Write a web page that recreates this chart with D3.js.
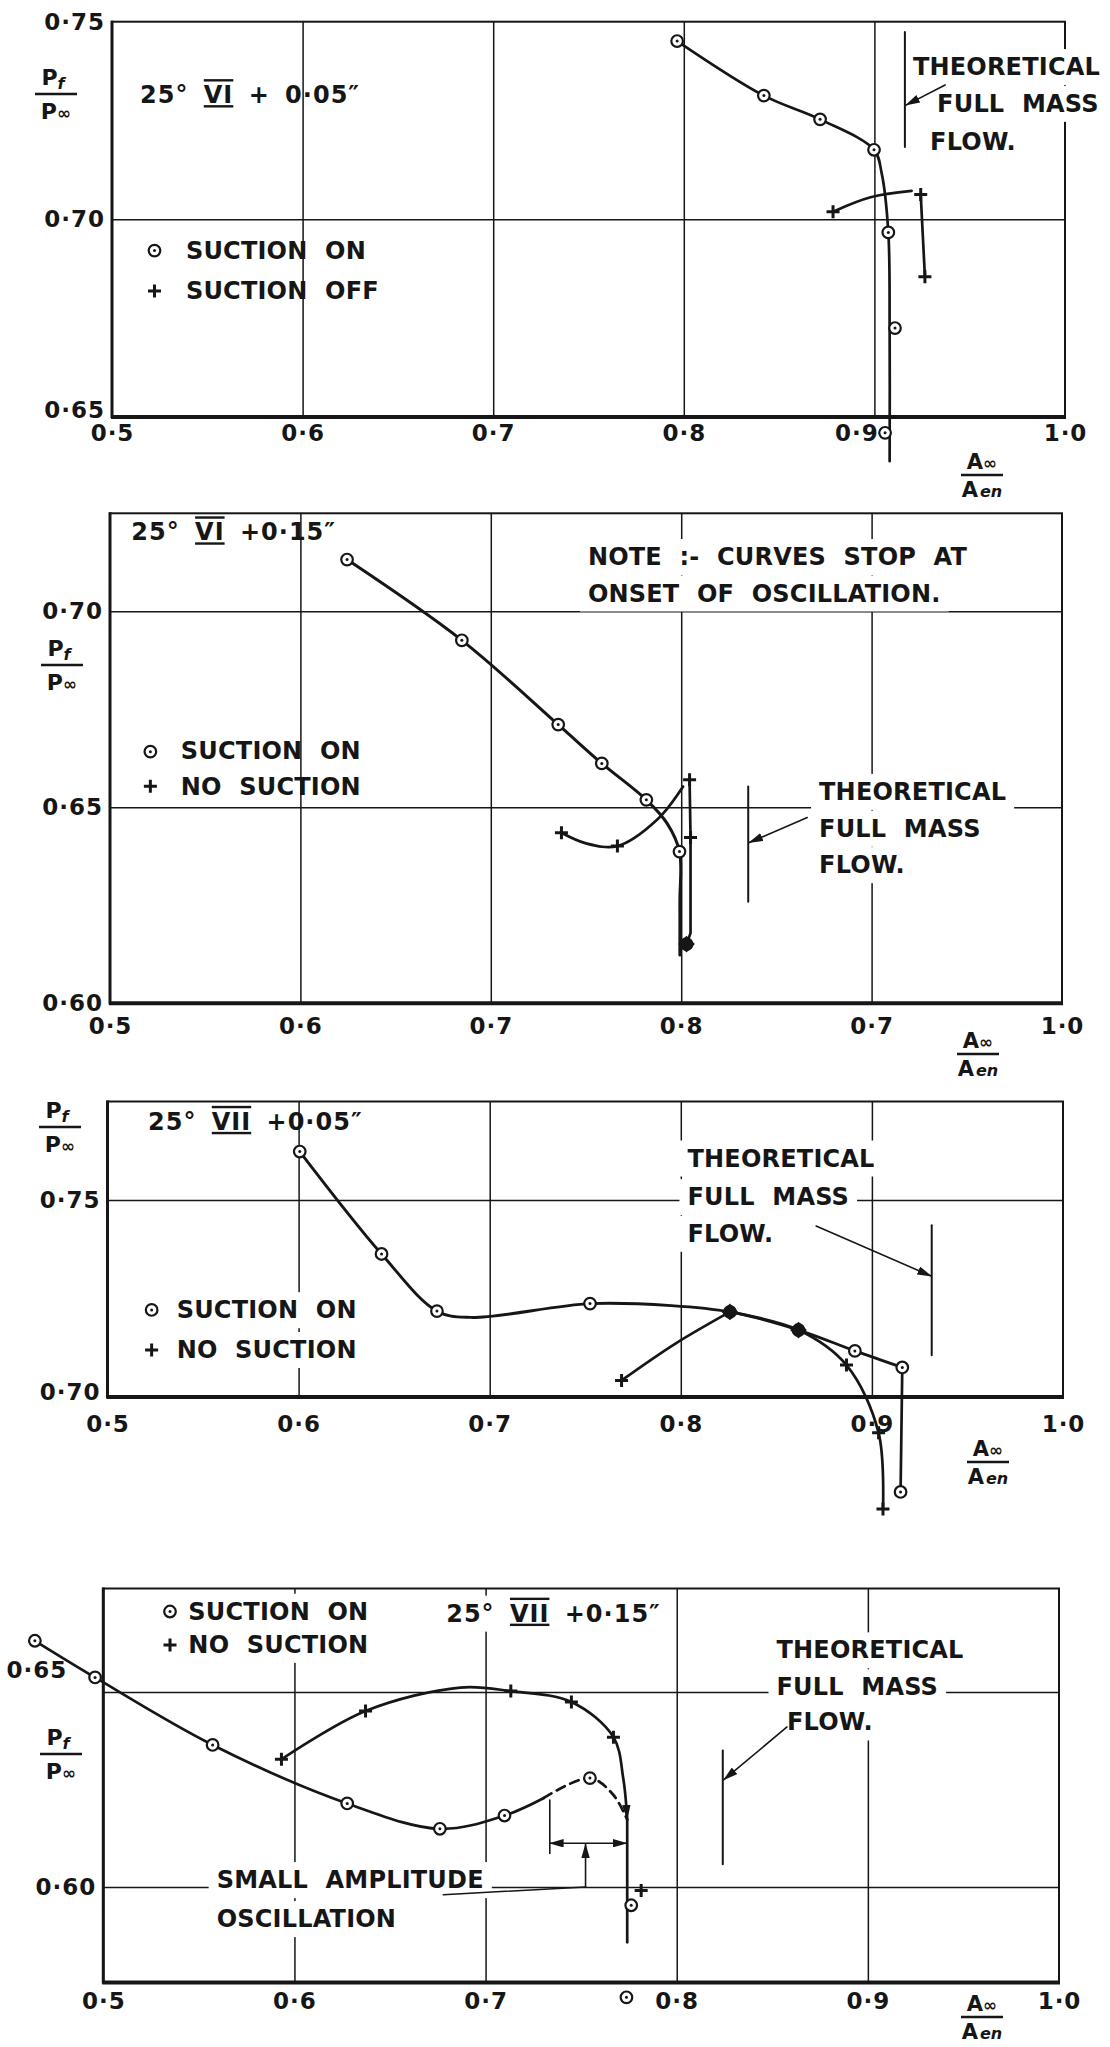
<!DOCTYPE html>
<html>
<head>
<meta charset="utf-8">
<script src="https://cdnjs.cloudflare.com/ajax/libs/d3/7.8.5/d3.min.js"></script>
<style>
  body { margin: 0; background: #fff; }
  svg text { font-family: "DejaVu Sans", Verdana, sans-serif; font-weight: bold; fill: #161616; }
</style>
</head>
<body>
<div id="chart"></div>
<script>
// Pf/P-inf against A-inf/A-en, four intake configurations (25 deg ramp)

// shared x axis
var xTicks = [0.5, 0.6, 0.7, 0.8, 0.9, 1.0];
var xTickLabels = ["0·5", "0·6", "0·7", "0·8", "0·9", "1·0"];
var xTickLabels2 = ["0·5", "0·6", "0·7", "0·8", "0·7", "1·0"]; // lettered this way on the original
var xGrid = [0.6, 0.7, 0.8, 0.9];

// panel 1 : 25° VI + 0.05"
var p1YTicks = [0.65, 0.70, 0.75];
var p1YGrid = [0.70];
var p1On = [[0.7965, 0.7451], [0.842, 0.7313], [0.8715, 0.7253], [0.8998, 0.7176], [0.9073, 0.6967], [0.9108, 0.6725], [0.9056, 0.646]];
var p1OnCurve = [[0.7965, 0.7451], [0.842, 0.7313], [0.8715, 0.7253], [0.8998, 0.7176], [0.9038, 0.7117], [0.9073, 0.6967], [0.908, 0.672], [0.908, 0.6388]];
var p1Off = [[0.8783, 0.7019], [0.9243, 0.7063], [0.9265, 0.6855]];
var p1OffArc = [[0.8795, 0.7022], [0.898, 0.7056], [0.9195, 0.7072]];
var p1OffLine = [[0.9243, 0.7063], [0.9265, 0.6855]];
var p1Theory = [[0.916, 0.7474], [0.916, 0.7183]];
var p1Arrow = [[0.9371, 0.734], [0.9166, 0.7289]];

// panel 2 : 25° VI + 0.15"
var p2YTicks = [0.60, 0.65, 0.70];
var p2YGrid = [0.65, 0.70];
var p2On = [[0.6245, 0.7132], [0.6848, 0.6926], [0.7354, 0.6711], [0.7583, 0.6612], [0.7817, 0.6519], [0.7991, 0.6387], [0.8028, 0.6151]];
var p2OnCurve = [[0.6245, 0.7132], [0.6848, 0.6926], [0.7354, 0.6711], [0.7583, 0.6612], [0.7817, 0.6519], [0.7926, 0.6459], [0.7991, 0.6387], [0.7993, 0.626], [0.7993, 0.6123]];
var p2Off = [[0.7371, 0.6435], [0.7665, 0.6401], [0.8044, 0.657], [0.8049, 0.6423], [0.8028, 0.6151]];
var p2OffCurve = [[0.7371, 0.6435], [0.750, 0.6408], [0.7665, 0.6401], [0.7873, 0.6468], [0.801, 0.6553]];
var p2OffLine = [[0.8044, 0.657], [0.8049, 0.6423], [0.8049, 0.6179], [0.8028, 0.6151]];
var p2Both = [[0.8028, 0.6151]];
var p2Theory = [[0.8352, 0.6553], [0.8352, 0.6259]];
var p2Arrow = [[0.8662, 0.6474], [0.8357, 0.641]];

// panel 3 : 25° VII + 0.05"
var p3YTicks = [0.70, 0.75];
var p3YGrid = [0.75];
var p3On = [[0.6006, 0.7623], [0.6434, 0.7363], [0.6724, 0.7218], [0.7525, 0.7237], [0.8257, 0.7216], [0.8616, 0.717], [0.8911, 0.7117], [0.9159, 0.7075], [0.915, 0.6759]];
var p3OnCurve = [[0.6006, 0.7623], [0.6434, 0.7363], [0.6724, 0.7218], [0.690, 0.7202], [0.7525, 0.7237], [0.795, 0.7232], [0.8257, 0.7216], [0.8616, 0.717], [0.8911, 0.7117], [0.9159, 0.7075]];
var p3OnDrop = [[0.9159, 0.7075], [0.915, 0.6759]];
var p3Off = [[0.769, 0.7042], [0.8257, 0.7216], [0.8616, 0.717], [0.8867, 0.7081], [0.9035, 0.6909], [0.9058, 0.6716]];
var p3OffCurve = [[0.769, 0.7042], [0.797, 0.7135], [0.8257, 0.7216]];
var p3OffLine = [[0.8257, 0.7216], [0.8616, 0.717], [0.8867, 0.7081], [0.9035, 0.6909], [0.9058, 0.6716]];
var p3Both = [[0.8257, 0.7216], [0.8616, 0.717]];
var p3Theory = [[0.9313, 0.7436], [0.9313, 0.7106]];
var p3Arrow = [[0.8708, 0.7434], [0.931, 0.7307]];

// panel 4 : 25° VII + 0.15"
var p4YTicks = [0.60, 0.65];
var p4YGrid = [0.60, 0.65];
var p4On = [[0.4642, 0.6631], [0.4957, 0.6537], [0.5572, 0.6364], [0.6276, 0.6214], [0.6761, 0.6149], [0.7099, 0.6183], [0.7546, 0.6279], [0.7762, 0.5953], [0.7737, 0.5717]];
var p4OnCurve = [[0.4642, 0.6631], [0.4957, 0.6537], [0.5572, 0.6364], [0.6276, 0.6214], [0.6761, 0.6149], [0.7099, 0.6183], [0.7305, 0.6228]];
var p4OnDashed = [[0.7305, 0.6228], [0.7546, 0.6279], [0.767, 0.6235], [0.7741, 0.6172]];
var p4OnDrop = [[0.7741, 0.6172], [0.7741, 0.5858]];
var p4Off = [[0.5932, 0.6327], [0.6372, 0.6451], [0.7132, 0.6502], [0.7449, 0.6474], [0.7669, 0.6384], [0.7814, 0.5991]];
var p4OffCurve = [[0.5932, 0.6327], [0.6372, 0.6451], [0.6868, 0.6511], [0.7132, 0.6502], [0.7449, 0.6474], [0.7669, 0.6384], [0.772, 0.6279], [0.7741, 0.6175]];
var p4Theory = [[0.8241, 0.635], [0.8241, 0.6058]];
var p4Arrow = [[0.8577, 0.641], [0.8247, 0.6275]];
var p4OscTick = [[0.7336, 0.6223], [0.7336, 0.6086]];
var p4OscSpan = [[0.7336, 0.6112], [0.7737, 0.6112]];
var p4OscPointer = [[0.7523, 0.600], [0.7523, 0.6109]];
var p4OscLeader = [[0.6779, 0.598], [0.7523, 0.600]];

var ink = "#161616";
var W = 1110, H = 2047;

var svg = d3.select("#chart").append("svg")
    .attr("width", W)
    .attr("height", H);

var defs = svg.append("defs");
defs.append("marker")
    .attr("id", "head")
    .attr("viewBox", "0 0 14 8")
    .attr("refX", 13)
    .attr("refY", 4)
    .attr("markerWidth", 15)
    .attr("markerHeight", 8.5)
    .attr("markerUnits", "userSpaceOnUse")
    .attr("orient", "auto-start-reverse")
  .append("path")
    .attr("d", "M0,0L14,4L0,8Z")
    .attr("fill", ink);

function fmtTick(d) { return d3.format(".2f")(d).replace(".", "·"); }

function backdrop(g, t) {
  var b = t.node().getBBox();
  g.insert("rect", function() { return t.node(); })
      .attr("x", b.x - 8).attr("y", b.y - 4)
      .attr("width", b.width + 16).attr("height", b.height + 8)
      .attr("fill", "#fff");
}

function words(g, px, py, str, bg) {
  var t = g.append("text")
      .attr("x", px).attr("y", py)
      .attr("font-size", 24)
      .attr("letter-spacing", 0.2)
      .attr("word-spacing", 9)
      .text(str);
  if (bg) backdrop(g, t);
  return t;
}

function title(g, px, py, numeral, tail, bg) {
  var t = g.append("text")
      .attr("x", px).attr("y", py)
      .attr("font-size", 24)
      .attr("letter-spacing", 1)
      .attr("word-spacing", 6);
  t.append("tspan").text("25° ");
  t.append("tspan").attr("text-decoration", "underline overline").text(numeral);
  t.append("tspan").text(tail);
  if (bg) backdrop(g, t);
}

function curve(g, x, y, pts, opt) {
  opt = opt || {};
  var line = d3.line()
      .curve(opt.straight ? d3.curveLinear : d3.curveCatmullRom.alpha(0.5))
      .x(function(d) { return x(d[0]); })
      .y(function(d) { return y(d[1]); });
  var p = g.append("path")
      .datum(pts)
      .attr("fill", "none")
      .attr("stroke", ink)
      .attr("stroke-width", opt.width || 2.7)
      .attr("stroke-linejoin", "round")
      .attr("stroke-linecap", "round")
      .attr("d", line);
  if (opt.dash) p.attr("stroke-dasharray", opt.dash);
  if (opt.end) p.attr("marker-end", "url(#head)");
  if (opt.start) p.attr("marker-start", "url(#head)");
  return p;
}

function onMarks(g, x, y, pts) {
  var m = g.selectAll(null).data(pts).enter().append("g")
      .attr("transform", function(d) { return "translate(" + x(d[0]) + "," + y(d[1]) + ")"; });
  m.append("circle").attr("r", 5.8).attr("fill", "#fff").attr("stroke", ink).attr("stroke-width", 2.2);
  m.append("circle").attr("r", 1.5).attr("fill", ink);
}

function offMarks(g, x, y, pts) {
  g.selectAll(null).data(pts).enter().append("path")
      .attr("transform", function(d) { return "translate(" + x(d[0]) + "," + y(d[1]) + ")"; })
      .attr("d", "M-6.5,0H6.5M0,-6.5V6.5")
      .attr("stroke", ink)
      .attr("stroke-width", 3)
      .attr("fill", "none");
}

function bothMarks(g, x, y, pts) {
  g.selectAll(null).data(pts).enter().append("path")
      .attr("transform", function(d) { return "translate(" + x(d[0]) + "," + y(d[1]) + ") rotate(45)"; })
      .attr("d", d3.symbol(d3.symbolSquare, 140))
      .attr("fill", ink);
}

function legendRows(g, x, y, sx, sy1, sy2, tx, ty1, ty2, t1, t2, bg) {
  words(g, x(tx), y(ty1), t1, bg);
  words(g, x(tx), y(ty2), t2, bg);
  onMarks(g, x, y, [[sx, sy1]]);
  offMarks(g, x, y, [[sx, sy2]]);
}

function yTitle(cx, barY) {
  var t = svg.append("text").attr("x", cx - 3).attr("y", barY - 9)
      .attr("text-anchor", "middle").attr("font-size", 22);
  t.append("tspan").text("P");
  t.append("tspan").attr("font-size", 16).attr("font-style", "italic").attr("dy", 4).text("f");
  svg.append("line")
      .attr("x1", cx - 21).attr("x2", cx + 21)
      .attr("y1", barY).attr("y2", barY)
      .attr("stroke", ink).attr("stroke-width", 2.6);
  var b = svg.append("text").attr("x", cx).attr("y", barY + 25)
      .attr("text-anchor", "middle").attr("font-size", 22);
  b.append("tspan").text("P");
  b.append("tspan").attr("font-size", 17).text("∞");
}

function xTitle(cx, barY) {
  var t = svg.append("text").attr("x", cx).attr("y", barY - 6)
      .attr("text-anchor", "middle").attr("font-size", 21);
  t.append("tspan").text("A");
  t.append("tspan").attr("font-size", 17).text("∞");
  svg.append("line")
      .attr("x1", cx - 21).attr("x2", cx + 21)
      .attr("y1", barY).attr("y2", barY)
      .attr("stroke", ink).attr("stroke-width", 2.4);
  var b = svg.append("text").attr("x", cx).attr("y", barY + 22)
      .attr("text-anchor", "middle").attr("font-size", 21);
  b.append("tspan").text("A");
  b.append("tspan").attr("font-size", 16).attr("font-style", "italic").attr("dx", 2).text("en");
}

function nudge(axisG, table) {
  if (!table) return;
  axisG.selectAll(".tick").filter(function(d) { return table[d]; }).select("text")
      .attr("transform", function(d) { return "translate(" + table[d][0] + "," + table[d][1] + ")"; });
}

function drawPanel(o) {
  var x = d3.scaleLinear().domain([0.5, 1.0]).range([o.left, o.right]);
  var y = d3.scaleLinear().domain(o.yDomain).range([o.bottom, o.top]);
  var g = svg.append("g");

  // grid
  g.append("g")
      .attr("transform", "translate(0," + o.bottom + ")")
      .call(d3.axisBottom(x).tickValues(xGrid).tickSize(-(o.bottom - o.top)).tickFormat(""))
      .call(function(a) { a.select(".domain").remove(); })
      .selectAll("line").attr("stroke", ink).attr("stroke-width", 1.5);
  g.append("g")
      .attr("transform", "translate(" + o.left + ",0)")
      .call(d3.axisLeft(y).tickValues(o.yGrid).tickSize(-(o.right - o.left)).tickFormat(""))
      .call(function(a) { a.select(".domain").remove(); })
      .selectAll("line").attr("stroke", ink).attr("stroke-width", 1.5);

  // frame, heavier on the two axes
  g.append("rect")
      .attr("x", o.left).attr("y", o.top)
      .attr("width", o.right - o.left).attr("height", o.bottom - o.top)
      .attr("fill", "none").attr("stroke", ink).attr("stroke-width", 2);
  g.append("line")
      .attr("x1", o.left - 1).attr("x2", o.right + 1)
      .attr("y1", o.bottom).attr("y2", o.bottom)
      .attr("stroke", ink).attr("stroke-width", 4);
  g.append("line")
      .attr("x1", o.left).attr("x2", o.left)
      .attr("y1", o.top - 1).attr("y2", o.bottom + 1)
      .attr("stroke", ink).attr("stroke-width", 3);

  // tick labels
  var xa = g.append("g")
      .attr("transform", "translate(0," + (o.xLabelY - 8) + ")")
      .call(d3.axisBottom(x).tickValues(xTicks).tickSize(0).tickPadding(0)
          .tickFormat(function(d, i) { return o.xLabels[i]; }));
  xa.select(".domain").remove();
  xa.selectAll("text").attr("font-size", 23).attr("letter-spacing", 1);
  nudge(xa, o.xNudge);

  var ya = g.append("g")
      .attr("transform", "translate(" + (o.left - 7) + ",0)")
      .call(d3.axisLeft(y).tickValues(o.yTicks).tickSize(0).tickPadding(0).tickFormat(fmtTick));
  ya.select(".domain").remove();
  ya.selectAll("text").attr("font-size", 23).attr("letter-spacing", 1);
  nudge(ya, o.yNudge);

  yTitle(o.yTitle[0], o.yTitle[1]);
  xTitle(o.xTitle[0], o.xTitle[1]);

  o.draw(g, x, y);
}

// panel 1
drawPanel({
  left: 112, right: 1065, top: 21.7, bottom: 417,
  yDomain: [0.65, 0.75], yTicks: p1YTicks, yGrid: p1YGrid,
  yNudge: {"0.65": [0, -7]},
  xLabels: xTickLabels, xLabelY: 433,
  xNudge: {"0.9": [-18, 0]},
  yTitle: [56, 94], xTitle: [982, 475],
  draw: function(g, x, y) {
    title(g, x(0.5147), y(0.7294), "VI", " + 0·05″", false);
    legendRows(g, x, y, 0.5223, 0.6921, 0.6819, 0.5388, 0.690, 0.6798, "SUCTION ON", "SUCTION OFF", false);
    words(g, x(0.9202), y(0.7365), "THEORETICAL", true);
    words(g, x(0.9329), y(0.7272), "FULL MASS", true);
    words(g, x(0.9292), y(0.7176), "FLOW.", true);
    curve(g, x, y, p1Theory, {straight: true, width: 2});
    curve(g, x, y, p1Arrow, {straight: true, width: 1.6, end: true});
    curve(g, x, y, p1OnCurve);
    curve(g, x, y, p1OffArc);
    curve(g, x, y, p1OffLine, {straight: true});
    onMarks(g, x, y, p1On);
    offMarks(g, x, y, p1Off);
  }
});

// panel 2
drawPanel({
  left: 110, right: 1062, top: 513.3, bottom: 1003.3,
  yDomain: [0.60, 0.725], yTicks: p2YTicks, yGrid: p2YGrid,
  xLabels: xTickLabels2, xLabelY: 1026,
  yTitle: [62, 665], xTitle: [978, 1054],
  draw: function(g, x, y) {
    title(g, x(0.5112), y(0.7181), "VI", " +0·15″", false);
    words(g, x(0.751), y(0.7118), "NOTE :- CURVES STOP AT", true);
    words(g, x(0.751), y(0.7025), "ONSET OF OSCILLATION.", true);
    legendRows(g, x, y, 0.5212, 0.6642, 0.6554, 0.5372, 0.6623, 0.6532, "SUCTION ON", "NO SUCTION", false);
    words(g, x(0.8724), y(0.6519), "THEORETICAL", true);
    words(g, x(0.8724), y(0.6425), "FULL MASS", true);
    words(g, x(0.8724), y(0.6332), "FLOW.", true);
    curve(g, x, y, p2Theory, {straight: true, width: 2});
    curve(g, x, y, p2Arrow, {straight: true, width: 1.6, end: true});
    curve(g, x, y, p2OnCurve, {width: 3});
    curve(g, x, y, p2OffCurve);
    curve(g, x, y, p2OffLine, {straight: true});
    onMarks(g, x, y, p2On);
    offMarks(g, x, y, p2Off);
    bothMarks(g, x, y, p2Both);
  }
});

// panel 3
drawPanel({
  left: 107.5, right: 1063, top: 1101.5, bottom: 1397,
  yDomain: [0.70, 0.775], yTicks: p3YTicks, yGrid: p3YGrid,
  yNudge: {"0.7": [0, -5]},
  xLabels: xTickLabels, xLabelY: 1424,
  yTitle: [60, 1127], xTitle: [988, 1462],
  draw: function(g, x, y) {
    title(g, x(0.5212), y(0.7678), "VII", " +0·05″", false);
    legendRows(g, x, y, 0.5231, 0.7221, 0.7119, 0.5362, 0.7200, 0.7099, "SUCTION ON", "NO SUCTION", true);
    words(g, x(0.8035), y(0.7585), "THEORETICAL", true);
    words(g, x(0.8035), y(0.7487), "FULL MASS", true);
    words(g, x(0.8035), y(0.7394), "FLOW.", true);
    curve(g, x, y, p3Theory, {straight: true, width: 2});
    curve(g, x, y, p3Arrow, {straight: true, width: 1.6, end: true});
    curve(g, x, y, p3OnCurve, {width: 2.9});
    curve(g, x, y, p3OnDrop, {straight: true});
    curve(g, x, y, p3OffCurve);
    curve(g, x, y, p3OffLine);
    onMarks(g, x, y, p3On);
    offMarks(g, x, y, p3Off);
    bothMarks(g, x, y, p3Both);
  }
});

// panel 4
drawPanel({
  left: 103.3, right: 1059, top: 1588.5, bottom: 1982.5,
  yDomain: [0.5755, 0.6765], yTicks: p4YTicks, yGrid: p4YGrid,
  yNudge: {"0.65": [-29, -22]},
  xLabels: xTickLabels, xLabelY: 2001,
  yTitle: [61, 1754], xTitle: [982, 2017],
  draw: function(g, x, y) {
    legendRows(g, x, y, 0.5349, 0.6706, 0.662, 0.5445, 0.6685, 0.660, "SUCTION ON", "NO SUCTION", true);
    title(g, x(0.6794), y(0.668), "VII", " +0·15″", true);
    words(g, x(0.8522), y(0.6586), "THEORETICAL", true);
    words(g, x(0.8522), y(0.6491), "FULL MASS", true);
    words(g, x(0.8577), y(0.6401), "FLOW.", true);
    words(g, x(0.5593), y(0.5997), "SMALL AMPLITUDE", true);
    words(g, x(0.5593), y(0.5897), "OSCILLATION", true);
    curve(g, x, y, p4Theory, {straight: true, width: 2});
    curve(g, x, y, p4Arrow, {straight: true, width: 1.6, end: true});
    curve(g, x, y, p4OscTick, {straight: true, width: 1.6});
    curve(g, x, y, p4OscSpan, {straight: true, width: 1.6, start: true, end: true});
    curve(g, x, y, p4OscPointer, {straight: true, width: 1.6, end: true});
    curve(g, x, y, p4OscLeader, {straight: true, width: 1.6});
    curve(g, x, y, p4OnCurve);
    curve(g, x, y, p4OnDashed, {dash: "9,6"});
    curve(g, x, y, p4OnDrop, {straight: true});
    curve(g, x, y, p4OffCurve, {end: true});
    onMarks(g, x, y, p4On);
    offMarks(g, x, y, p4Off);
  }
});
</script>
</body>
</html>
